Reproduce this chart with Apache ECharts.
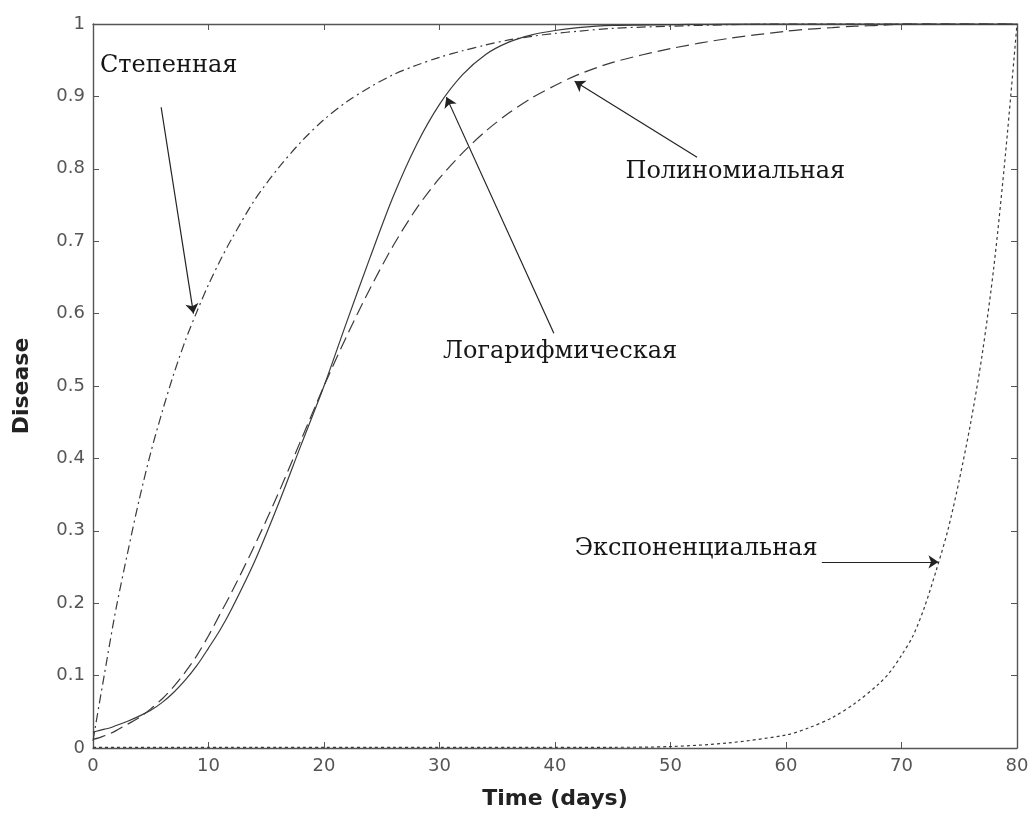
<!DOCTYPE html>
<html>
<head>
  <meta charset="UTF-8">
  <title>Disease</title>
  <style>
  html, body {
    margin: 0;
    padding: 0;
    background: #fff;
  }
  #chart {
    width: 1028px;
    height: 818px;
  }
  </style>
  <script src="https://cdn.jsdelivr.net/npm/echarts@6/dist/echarts.min.js"></script>
</head>
<body>
  <div id="chart"></div>
  <script type="text/javascript">
  // days shared by all four curves
  var days = [0, 0.5, 1, 1.5, 2, 3, 4, 5, 6, 7, 8, 9, 10, 11, 12, 14, 16, 18, 20, 22, 24, 26, 28, 30, 32, 34, 36, 38, 40, 42, 45, 50, 55, 60, 62, 64, 66, 68, 69, 70, 71, 72, 73, 74, 75, 76, 77, 78, 79, 80];

  // Степенная (dash-dot)
  var powerVals = [0.01, 0.057, 0.103, 0.149, 0.193, 0.27, 0.343, 0.408, 0.465, 0.517, 0.563, 0.603, 0.64, 0.673, 0.703, 0.757, 0.80, 0.837, 0.868, 0.893, 0.913, 0.93, 0.943, 0.954, 0.963, 0.971, 0.978, 0.983, 0.987, 0.99, 0.994, 0.997, 0.999, 1, 1, 1, 1, 1, 1, 1, 1, 1, 1, 1, 1, 1, 1, 1, 1, 1];
  // Логарифмическая (solid)
  var logVals = [0.022, 0.024, 0.026, 0.028, 0.031, 0.037, 0.044, 0.052, 0.063, 0.077, 0.094, 0.114, 0.138, 0.163, 0.192, 0.258, 0.335, 0.418, 0.50, 0.59, 0.678, 0.762, 0.833, 0.889, 0.93, 0.958, 0.975, 0.985, 0.991, 0.995, 0.998, 0.999, 1, 1, 1, 1, 1, 1, 1, 1, 1, 1, 1, 1, 1, 1, 1, 1, 1, 1];
  // Полиномиальная (dashed)
  var polyVals = [0.012, 0.014, 0.017, 0.02, 0.024, 0.033, 0.042, 0.054, 0.068, 0.085, 0.105, 0.128, 0.155, 0.185, 0.215, 0.28, 0.35, 0.425, 0.50, 0.57, 0.635, 0.694, 0.745, 0.787, 0.822, 0.852, 0.877, 0.898, 0.915, 0.93, 0.947, 0.966, 0.98, 0.99, 0.993, 0.995, 0.997, 0.998, 0.999, 1, 1, 1, 1, 1, 1, 1, 1, 1, 1, 1];
  // Экспоненциальная (dotted)
  var expVals = [0.001, 0.001, 0.001, 0.001, 0.001, 0.001, 0.001, 0.001, 0.001, 0.001, 0.001, 0.001, 0.001, 0.001, 0.001, 0.001, 0.001, 0.001, 0.001, 0.001, 0.001, 0.001, 0.001, 0.001, 0.001, 0.001, 0.001, 0.001, 0.001, 0.001, 0.001, 0.002, 0.007, 0.018, 0.028, 0.042, 0.062, 0.088, 0.105, 0.128, 0.155, 0.195, 0.245, 0.30, 0.37, 0.45, 0.545, 0.665, 0.82, 1.0];

  var xTicks = [0, 10, 20, 30, 40, 50, 60, 70, 80];
  var yTicks = [0, 0.1, 0.2, 0.3, 0.4, 0.5, 0.6, 0.7, 0.8, 0.9, 1];

  // annotation text and arrows, in data units
  var notes = [
    { text: 'Степенная', at: [0.6, 0.943], from: [5.9, 0.885], to: [8.7, 0.600] },
    { text: 'Полиномиальная', at: [46.1, 0.796], from: [52.3, 0.816], to: [41.7, 0.921] },
    { text: 'Логарифмическая', at: [30.3, 0.547], from: [39.9, 0.573], to: [30.6, 0.899] },
    { text: 'Экспоненциальная', at: [41.7, 0.275], from: [63.1, 0.257], to: [73.2, 0.257] }
  ];

  function pairs(vals) {
    var out = [];
    for (var i = 0; i < days.length; i++) {
      out.push([days[i], vals[i]]);
    }
    return out;
  }

  var lineColor = '#3a3a3a';
  var axisColor = '#555';

  function curve(name, vals, dash) {
    return {
      name: name,
      type: 'line',
      data: pairs(vals),
      showSymbol: false,
      smooth: 0.3,
      clip: false,
      lineStyle: {
        color: lineColor,
        width: 1.2,
        type: dash
      }
    };
  }

  var myChart = echarts.init(document.getElementById('chart'));

  var baseX = {
    type: 'value',
    min: 0,
    max: 80,
    interval: 10,
    splitLine: { show: false },
    axisLine: { show: true, onZero: false, lineStyle: { color: axisColor, width: 1.4 } },
    axisTick: { show: true, inside: true, length: 6, lineStyle: { color: axisColor } }
  };
  var baseY = {
    type: 'value',
    min: 0,
    max: 1,
    interval: 0.1,
    splitLine: { show: false },
    axisLine: { show: true, onZero: false, lineStyle: { color: axisColor, width: 1.4 } },
    axisTick: { show: true, inside: true, length: 6, lineStyle: { color: axisColor } }
  };

  var series = [
    curve('Степенная', powerVals, [9, 4, 2, 4]),
    curve('Логарифмическая', logVals, 'solid'),
    curve('Полиномиальная', polyVals, [13, 6]),
    curve('Экспоненциальная', expVals, [3, 3])
  ];

  // arrows and labels ride on an empty helper series
  series.push({
    type: 'line',
    data: [],
    silent: true,
    markLine: {
      silent: true,
      animation: false,
      symbol: ['none', 'arrow'],
      symbolSize: 10,
      label: { show: false },
      lineStyle: { color: '#222', width: 1.2, type: 'solid' },
      itemStyle: { color: '#222' },
      emphasis: { disabled: true },
      data: notes.map(function(n) {
        return [{ coord: n.from }, { coord: n.to }];
      })
    },
    markPoint: {
      silent: true,
      animation: false,
      symbol: 'circle',
      symbolSize: 0,
      data: notes.map(function(n) {
        return {
          coord: n.at,
          label: {
            show: true,
            position: 'right',
            distance: 0,
            formatter: n.text,
            fontFamily: 'DejaVu Serif',
            fontSize: 24,
            color: '#151515'
          }
        };
      })
    }
  });

  var option = {
    animation: false,
    backgroundColor: '#fff',
    grid: {
      left: 93,
      right: 11,
      top: 24,
      bottom: 70,
      outerBoundsMode: 'none'
    },
    xAxis: [
      Object.assign({}, baseX, {
        position: 'bottom',
        name: 'Time (days)',
        nameLocation: 'middle',
        nameGap: 40,
        nameTextStyle: { fontFamily: 'DejaVu Sans', fontSize: 22, fontWeight: 'bold', color: '#222' },
        axisLabel: {
          margin: 9,
          fontFamily: 'DejaVu Sans',
          fontSize: 18,
          color: '#555',
          customValues: xTicks
        }
      }),
      Object.assign({}, baseX, {
        position: 'top',
        axisLabel: { show: false }
      })
    ],
    yAxis: [
      Object.assign({}, baseY, {
        position: 'left',
        name: 'Disease',
        nameLocation: 'middle',
        nameRotate: 90,
        nameGap: 60,
        nameTextStyle: { fontFamily: 'DejaVu Sans', fontSize: 22, fontWeight: 'bold', color: '#222' },
        axisLabel: {
          margin: 8,
          fontFamily: 'DejaVu Sans',
          fontSize: 18,
          color: '#555',
          formatter: function(v) {
            var r = Math.round(v * 10) / 10;
            return yTicks.indexOf(r) >= 0 ? String(r) : '';
          }
        }
      }),
      Object.assign({}, baseY, {
        position: 'right',
        axisLabel: { show: false }
      })
    ],
    series: series
  };

  myChart.setOption(option);
  </script>
</body>
</html>
